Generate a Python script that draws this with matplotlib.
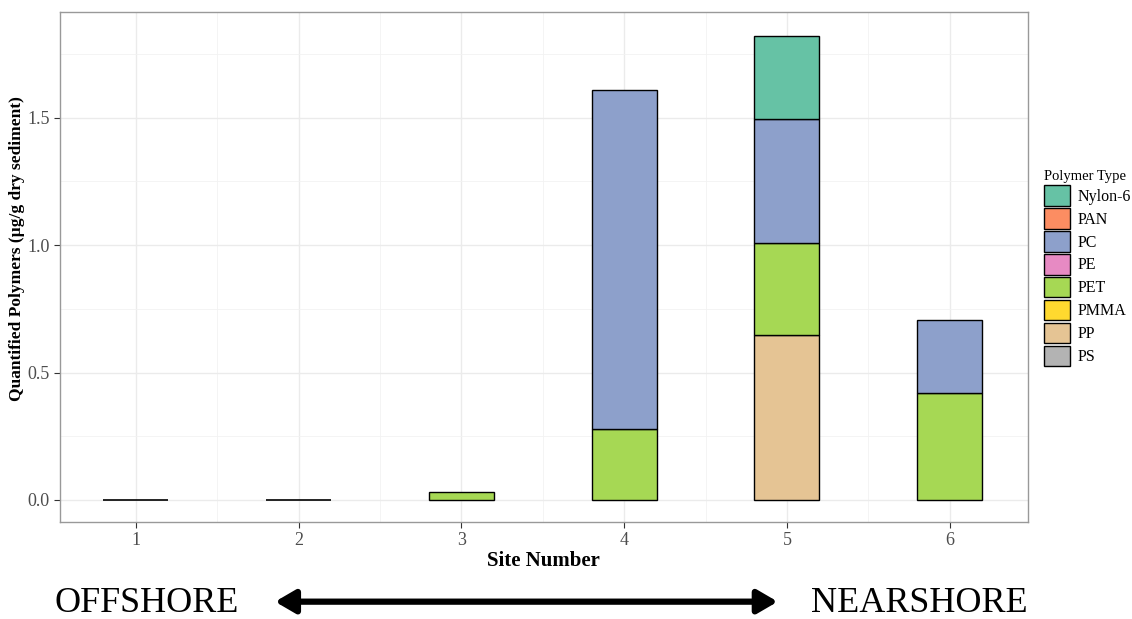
import numpy as np
import matplotlib
matplotlib.use('Agg')
import matplotlib.pyplot as plt
from matplotlib.patches import Patch, FancyArrowPatch
from matplotlib.ticker import MultipleLocator, FormatStrFormatter

plt.rcParams['font.family'] = ['Liberation Serif', 'DejaVu Serif']

sites = [1, 2, 3, 4, 5, 6]
polymers = ['Nylon-6', 'PAN', 'PC', 'PE', 'PET', 'PMMA', 'PP', 'PS']
colors = ['#66C2A5', '#FC8D62', '#8DA0CB', '#E78AC3', '#A6D854', '#FFD92F', '#E5C494', '#B3B3B3']

# µg/g dry sediment per site
nylon6 = [0, 0, 0, 0, 0.326, 0]
pan    = [0, 0, 0, 0, 0, 0]
pc     = [0, 0, 0, 1.33, 0.487, 0.287]
pe     = [0, 0, 0, 0, 0, 0]
pet    = [0, 0, 0.03, 0.279, 0.36, 0.42]
pmma   = [0, 0, 0, 0, 0, 0]
pp     = [0, 0, 0, 0, 0.648, 0]
ps     = [0, 0, 0, 0, 0, 0]

series = [nylon6, pan, pc, pe, pet, pmma, pp, ps]

fig = plt.figure(figsize=(11.32, 6.19), dpi=100)
ax = fig.add_axes([0.053, 0.157, 0.855, 0.824])

# stack from the last polymer (bottom) to the first (top), like ggplot
bottom = np.zeros(len(sites))
for name, col, vals in zip(polymers[::-1], colors[::-1], series[::-1]):
    vals = np.array(vals, dtype=float)
    m = vals > 0
    ax.bar(np.array(sites)[m], vals[m], bottom=bottom[m], width=0.4,
           color=col, edgecolor='black', linewidth=1.0, zorder=3)
    bottom += vals
empty = bottom == 0
ax.bar(np.array(sites)[empty], np.zeros(empty.sum()), width=0.4,
       color='none', edgecolor='black', linewidth=1.2, zorder=3)

ax.set_xlim(0.535, 6.48)
ax.set_ylim(-0.086, 1.916)
ax.set_xticks(sites)
ax.yaxis.set_major_locator(MultipleLocator(0.5))
ax.yaxis.set_minor_locator(MultipleLocator(0.25))
ax.set_xticks([1.5, 2.5, 3.5, 4.5, 5.5], minor=True)
ax.yaxis.set_major_formatter(FormatStrFormatter('%.1f'))
ax.grid(which='major', color='#EBEBEB', linewidth=1.0, zorder=0)
ax.grid(which='minor', color='#F2F2F2', linewidth=0.6, zorder=0)
ax.tick_params(which='major', labelsize=13, labelcolor='#4D4D4D', color='#333333', length=4)
ax.tick_params(which='minor', length=0)
for s in ax.spines.values():
    s.set_color('#999999')
    s.set_linewidth(1.0)

ax.set_xlabel('Site Number', fontsize=15, fontweight='bold', labelpad=1)
ax.set_ylabel('Quantified Polymers (µg/g dry sediment)', fontsize=12.5, fontweight='bold')
ax.yaxis.set_label_coords(-0.036, 0.535)

handles = [Patch(facecolor=c, edgecolor='black', label=p) for p, c in zip(polymers, colors)]
leg = fig.legend(handles=handles, title='Polymer Type', loc='center left',
                 bbox_to_anchor=(0.917, 0.567), frameon=False, fontsize=11.5,
                 title_fontsize=10.5, handlelength=1.6, handleheight=1.6,
                 handletextpad=0.5, labelspacing=0.15, borderaxespad=0)
leg._legend_box.align = 'left'

fig.text(0.048, 0.012, 'OFFSHORE', fontsize=26, ha='left', va='baseline')
fig.text(0.908, 0.012, 'NEARSHORE', fontsize=26, ha='right', va='baseline')
fig.add_artist(FancyArrowPatch(
    (0.243, 0.028), (0.687, 0.028), transform=fig.transFigure,
    arrowstyle='<|-|>,head_length=12,head_width=7', mutation_scale=1,
    linewidth=4.5, color='black', shrinkA=0, shrinkB=0))

fig.savefig('out.png', dpi=100)
